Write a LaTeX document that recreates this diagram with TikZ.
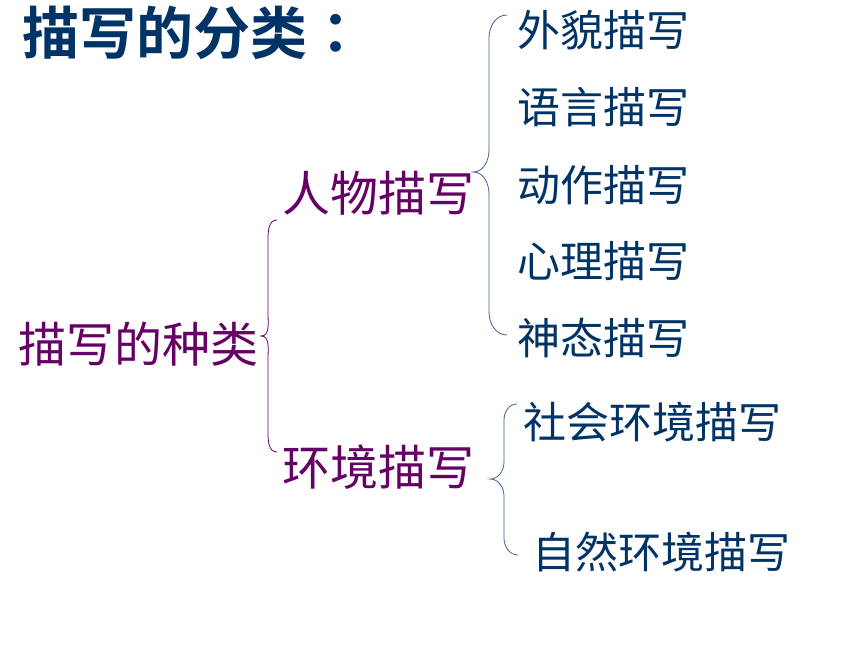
\documentclass[tikz,border=0pt]{standalone}
\usepackage{fontspec}
\newfontfamily\cjk{Noto Sans CJK SC}
\newfontfamily\cjkbold{Noto Sans CJK SC Bold}
\newfontfamily\cjkboldtc{Noto Sans CJK TC Bold}
\definecolor{dblue}{HTML}{003366}
\definecolor{dpurple}{HTML}{660066}
\definecolor{bracecol}{HTML}{3A6590}
\begin{document}
\begin{tikzpicture}[x=1pt,y=-1pt,
  title/.style={anchor=west,inner sep=0pt,text=dblue,font=\cjkbold\fontsize{57}{57}\selectfont},
  mid/.style={anchor=west,inner sep=0pt,text=dpurple,font=\cjk\fontsize{48}{48}\selectfont},
  leaf/.style={anchor=west,inner sep=0pt,text=dblue,font=\cjk\fontsize{43}{43}\selectfont},
  pbrace/.style={draw=dpurple,line width=0.8pt},
  bbrace/.style={draw=bracecol,line width=0.8pt}]
\useasboundingbox[fill=white] (0,0) rectangle (860,645);
% texts
\node[title] (title) at (22,33) {描写的分类{\cjkboldtc ：}};
\node[mid] (root) at (18,344) {描写的种类};
\node[mid] (person) at (282,193) {人物描写};
\node[mid] (env) at (282,467) {环境描写};
\node[leaf] (l1) at (517,30) {外貌描写};
\node[leaf] (l2) at (517,107) {语言描写};
\node[leaf] (l3) at (517,185) {动作描写};
\node[leaf] (l4) at (517,261) {心理描写};
\node[leaf] (l5) at (517,338) {神态描写};
\node[leaf] (e1) at (523,422) {社会环境描写};
\node[leaf] (e2) at (532,552) {自然环境描写};
% braces
\coordinate (bt0) at (277,220);
\coordinate (bb0) at (277,452);
\coordinate (tip0) at (261,336);
\draw[pbrace] (bt0) to[out=180,in=90] (268,240) -- (268,314) to[out=-90,in=0] (tip0)
  to[out=0,in=90] (268,358) -- (268,432) to[out=-90,in=180] (bb0);
\coordinate (bt1) at (507,15);
\coordinate (bb1) at (507,335);
\coordinate (tip1) at (473,172);
\draw[bbrace] (bt1) to[out=180,in=90] (489,38) -- (489,150) to[out=-90,in=0] (tip1)
  to[out=0,in=90] (489,194) -- (489,312) to[out=-90,in=180] (bb1);
\coordinate (bt2) at (517,404);
\coordinate (bb2) at (518,555);
\coordinate (tip2) at (490,479);
\draw[bbrace] (bt2) to[out=180,in=90] (504,420) -- (504,462) to[out=-90,in=0] (tip2)
  to[out=0,in=90] (504,496) -- (504,538) to[out=-90,in=180] (bb2);
\end{tikzpicture}
\end{document}
